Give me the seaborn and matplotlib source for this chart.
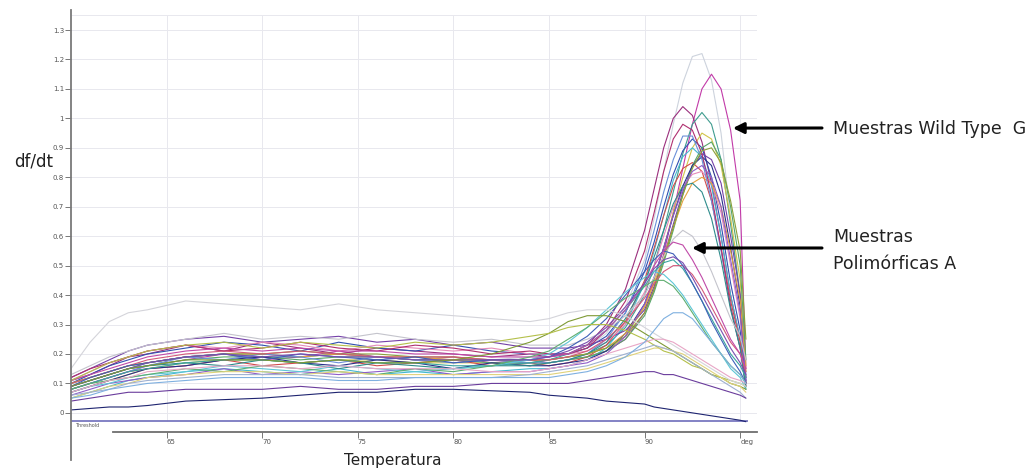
import matplotlib
matplotlib.use("Agg")
import matplotlib.pyplot as plt
import numpy as np
import pandas as pd
import seaborn as sns

# Melt-curve derivative (df/dt) readings per sample
temperature = [60, 61, 62, 63, 64, 66, 68, 70, 72, 74, 76, 78, 80, 82, 84, 85, 86, 87,
               88, 89, 90, 90.5, 91, 91.5, 92, 92.5, 93, 93.5, 94, 94.5, 95, 95.3]

# Wild type G samples (single tall melting peak near 92-93.5 degrees)
wt_01 = [0.10, 0.12, 0.14, 0.16, 0.17, 0.19, 0.20, 0.20, 0.19, 0.20, 0.19, 0.19, 0.18, 0.18, 0.19, 0.19,
         0.20, 0.22, 0.27, 0.36, 0.52, 0.66, 0.82, 0.98, 1.12, 1.21, 1.22, 1.13, 0.95, 0.66, 0.40, 0.14]
wt_02 = [0.08, 0.10, 0.12, 0.14, 0.16, 0.18, 0.20, 0.18, 0.19, 0.21, 0.19, 0.18, 0.19, 0.17, 0.18, 0.17,
         0.18, 0.19, 0.21, 0.25, 0.34, 0.42, 0.54, 0.68, 0.83, 0.98, 1.10, 1.15, 1.10, 0.96, 0.72, 0.15]
wt_03 = [0.11, 0.13, 0.16, 0.19, 0.20, 0.23, 0.21, 0.24, 0.22, 0.20, 0.22, 0.21, 0.20, 0.19, 0.20, 0.19,
         0.20, 0.23, 0.30, 0.42, 0.62, 0.76, 0.90, 1.00, 1.04, 1.01, 0.92, 0.78, 0.60, 0.40, 0.25, 0.10]
wt_04 = [0.09, 0.11, 0.13, 0.15, 0.17, 0.19, 0.20, 0.19, 0.19, 0.20, 0.19, 0.18, 0.18, 0.18, 0.17, 0.18,
         0.19, 0.20, 0.23, 0.29, 0.40, 0.50, 0.62, 0.75, 0.88, 0.98, 1.02, 0.98, 0.86, 0.64, 0.40, 0.12]
wt_05 = [0.07, 0.09, 0.11, 0.13, 0.15, 0.17, 0.18, 0.18, 0.17, 0.18, 0.18, 0.17, 0.17, 0.17, 0.16, 0.17,
         0.18, 0.19, 0.21, 0.26, 0.36, 0.45, 0.56, 0.68, 0.80, 0.90, 0.95, 0.93, 0.84, 0.66, 0.45, 0.16]
wt_06 = [0.10, 0.13, 0.16, 0.18, 0.20, 0.22, 0.24, 0.23, 0.21, 0.24, 0.22, 0.21, 0.23, 0.21, 0.20, 0.20,
         0.20, 0.22, 0.26, 0.34, 0.48, 0.58, 0.70, 0.81, 0.89, 0.93, 0.90, 0.80, 0.64, 0.44, 0.28, 0.11]
wt_07 = [0.05, 0.07, 0.09, 0.11, 0.12, 0.14, 0.15, 0.14, 0.13, 0.15, 0.13, 0.14, 0.13, 0.14, 0.15, 0.15,
         0.16, 0.18, 0.22, 0.30, 0.44, 0.55, 0.67, 0.79, 0.87, 0.90, 0.87, 0.77, 0.60, 0.40, 0.25, 0.09]
wt_08 = [0.12, 0.15, 0.18, 0.21, 0.23, 0.25, 0.26, 0.24, 0.25, 0.26, 0.24, 0.25, 0.23, 0.24, 0.22, 0.22,
         0.22, 0.23, 0.25, 0.28, 0.35, 0.43, 0.53, 0.64, 0.75, 0.84, 0.88, 0.86, 0.78, 0.60, 0.40, 0.12]
wt_09 = [0.08, 0.10, 0.12, 0.14, 0.15, 0.16, 0.18, 0.16, 0.17, 0.18, 0.16, 0.17, 0.18, 0.16, 0.17, 0.16,
         0.17, 0.19, 0.23, 0.31, 0.45, 0.56, 0.67, 0.77, 0.83, 0.85, 0.82, 0.72, 0.56, 0.38, 0.24, 0.10]
wt_10 = [0.09, 0.11, 0.13, 0.15, 0.16, 0.18, 0.19, 0.19, 0.18, 0.19, 0.19, 0.18, 0.18, 0.17, 0.17, 0.17,
         0.18, 0.19, 0.21, 0.25, 0.33, 0.41, 0.51, 0.62, 0.74, 0.84, 0.90, 0.92, 0.86, 0.70, 0.50, 0.18]
wt_11 = [0.11, 0.14, 0.17, 0.19, 0.21, 0.23, 0.22, 0.24, 0.23, 0.21, 0.23, 0.22, 0.21, 0.22, 0.20, 0.20,
         0.20, 0.21, 0.24, 0.30, 0.41, 0.50, 0.60, 0.70, 0.77, 0.81, 0.82, 0.78, 0.68, 0.50, 0.32, 0.12]
wt_12 = [0.07, 0.09, 0.11, 0.13, 0.15, 0.16, 0.18, 0.19, 0.17, 0.16, 0.18, 0.17, 0.15, 0.17, 0.16, 0.16,
         0.17, 0.18, 0.21, 0.27, 0.37, 0.46, 0.56, 0.67, 0.77, 0.84, 0.87, 0.84, 0.74, 0.56, 0.36, 0.10]
wt_13 = [0.10, 0.12, 0.14, 0.16, 0.17, 0.19, 0.20, 0.20, 0.19, 0.20, 0.19, 0.19, 0.18, 0.18, 0.18, 0.18,
         0.19, 0.20, 0.22, 0.27, 0.36, 0.44, 0.53, 0.63, 0.72, 0.78, 0.80, 0.78, 0.70, 0.55, 0.38, 0.14]
wt_14 = [0.08, 0.10, 0.12, 0.14, 0.16, 0.19, 0.18, 0.20, 0.19, 0.17, 0.19, 0.18, 0.17, 0.18, 0.17, 0.17,
         0.18, 0.20, 0.25, 0.34, 0.50, 0.62, 0.75, 0.86, 0.94, 0.94, 0.86, 0.72, 0.55, 0.36, 0.22, 0.09]
wt_15 = [0.12, 0.15, 0.17, 0.19, 0.21, 0.23, 0.21, 0.22, 0.24, 0.22, 0.21, 0.23, 0.22, 0.20, 0.21, 0.20,
         0.20, 0.22, 0.28, 0.38, 0.55, 0.68, 0.82, 0.93, 0.98, 0.96, 0.88, 0.74, 0.56, 0.36, 0.22, 0.09]
wt_16 = [0.09, 0.11, 0.13, 0.15, 0.16, 0.17, 0.16, 0.18, 0.17, 0.15, 0.17, 0.16, 0.15, 0.16, 0.16, 0.17,
         0.18, 0.20, 0.24, 0.32, 0.44, 0.53, 0.62, 0.71, 0.77, 0.78, 0.75, 0.66, 0.52, 0.35, 0.22, 0.08]
wt_17 = [0.10, 0.12, 0.14, 0.16, 0.17, 0.19, 0.20, 0.20, 0.21, 0.20, 0.20, 0.19, 0.19, 0.18, 0.18, 0.18,
         0.19, 0.20, 0.22, 0.26, 0.34, 0.42, 0.52, 0.63, 0.74, 0.83, 0.89, 0.90, 0.85, 0.72, 0.55, 0.25]
wt_18 = [0.06, 0.08, 0.10, 0.11, 0.12, 0.13, 0.15, 0.13, 0.14, 0.13, 0.14, 0.15, 0.13, 0.14, 0.14, 0.15,
         0.16, 0.17, 0.20, 0.26, 0.37, 0.46, 0.56, 0.67, 0.76, 0.82, 0.84, 0.80, 0.70, 0.52, 0.34, 0.11]

# Polymorphic A samples (lower, earlier and broader peak)
pm_01 = [0.13, 0.16, 0.19, 0.21, 0.23, 0.25, 0.27, 0.25, 0.26, 0.25, 0.27, 0.25, 0.24, 0.25, 0.23, 0.23,
         0.23, 0.25, 0.28, 0.33, 0.40, 0.46, 0.53, 0.59, 0.62, 0.60, 0.55, 0.48, 0.40, 0.32, 0.26, 0.18]
pm_02 = [0.08, 0.10, 0.12, 0.14, 0.15, 0.17, 0.18, 0.18, 0.17, 0.18, 0.17, 0.17, 0.16, 0.16, 0.17, 0.18,
         0.20, 0.23, 0.28, 0.35, 0.43, 0.48, 0.51, 0.52, 0.49, 0.44, 0.38, 0.32, 0.26, 0.20, 0.16, 0.12]
pm_03 = [0.10, 0.12, 0.14, 0.16, 0.18, 0.20, 0.21, 0.20, 0.21, 0.20, 0.19, 0.19, 0.19, 0.18, 0.18, 0.18,
         0.19, 0.21, 0.25, 0.31, 0.39, 0.44, 0.48, 0.50, 0.50, 0.47, 0.42, 0.36, 0.30, 0.24, 0.20, 0.14]
pm_04 = [0.09, 0.12, 0.14, 0.16, 0.17, 0.19, 0.20, 0.18, 0.20, 0.19, 0.18, 0.19, 0.17, 0.18, 0.18, 0.19,
         0.22, 0.26, 0.32, 0.40, 0.48, 0.52, 0.55, 0.54, 0.50, 0.44, 0.38, 0.31, 0.25, 0.19, 0.14, 0.10]
pm_05 = [0.07, 0.09, 0.10, 0.12, 0.13, 0.14, 0.16, 0.15, 0.14, 0.16, 0.15, 0.14, 0.15, 0.16, 0.18, 0.20,
         0.24, 0.29, 0.35, 0.41, 0.46, 0.48, 0.47, 0.44, 0.40, 0.35, 0.30, 0.25, 0.20, 0.15, 0.12, 0.08]
pm_06 = [0.11, 0.13, 0.15, 0.17, 0.19, 0.21, 0.22, 0.21, 0.22, 0.21, 0.21, 0.20, 0.20, 0.19, 0.19, 0.19,
         0.20, 0.23, 0.28, 0.35, 0.44, 0.50, 0.55, 0.58, 0.57, 0.52, 0.46, 0.39, 0.32, 0.25, 0.20, 0.15]
pm_07 = [0.08, 0.10, 0.11, 0.12, 0.13, 0.15, 0.14, 0.16, 0.15, 0.14, 0.13, 0.15, 0.14, 0.16, 0.19, 0.21,
         0.25, 0.29, 0.34, 0.39, 0.43, 0.45, 0.45, 0.43, 0.39, 0.34, 0.29, 0.24, 0.20, 0.16, 0.13, 0.10]
pm_08 = [0.09, 0.11, 0.13, 0.15, 0.17, 0.19, 0.20, 0.19, 0.20, 0.19, 0.19, 0.18, 0.18, 0.18, 0.18, 0.19,
         0.21, 0.24, 0.29, 0.36, 0.44, 0.49, 0.52, 0.53, 0.51, 0.46, 0.40, 0.34, 0.28, 0.22, 0.17, 0.13]

# Samples with an early, shallow transition
eb_01 = [0.09, 0.11, 0.13, 0.15, 0.16, 0.18, 0.18, 0.18, 0.17, 0.18, 0.17, 0.17, 0.18, 0.20, 0.24, 0.27,
         0.31, 0.33, 0.33, 0.31, 0.27, 0.25, 0.23, 0.21, 0.19, 0.17, 0.15, 0.13, 0.12, 0.10, 0.09, 0.08]
eb_02 = [0.11, 0.14, 0.17, 0.19, 0.21, 0.23, 0.24, 0.22, 0.24, 0.23, 0.22, 0.24, 0.23, 0.24, 0.26, 0.27,
         0.29, 0.30, 0.30, 0.28, 0.25, 0.23, 0.21, 0.20, 0.18, 0.16, 0.15, 0.13, 0.12, 0.11, 0.10, 0.09]
og_01 = [0.15, 0.24, 0.31, 0.34, 0.35, 0.38, 0.37, 0.36, 0.35, 0.37, 0.35, 0.34, 0.33, 0.32, 0.31, 0.32,
         0.34, 0.35, 0.35, 0.33, 0.29, 0.27, 0.25, 0.23, 0.21, 0.19, 0.17, 0.15, 0.13, 0.11, 0.10, 0.09]

# Flat, low-signal samples
lf_01 = [0.07, 0.09, 0.11, 0.12, 0.14, 0.15, 0.16, 0.16, 0.15, 0.16, 0.15, 0.15, 0.15, 0.14, 0.14, 0.15,
         0.16, 0.18, 0.20, 0.22, 0.24, 0.25, 0.25, 0.24, 0.22, 0.20, 0.18, 0.16, 0.14, 0.12, 0.11, 0.10]
lf_02 = [0.05, 0.07, 0.09, 0.10, 0.12, 0.13, 0.14, 0.14, 0.13, 0.14, 0.13, 0.13, 0.13, 0.13, 0.13, 0.13,
         0.14, 0.15, 0.17, 0.19, 0.21, 0.22, 0.22, 0.21, 0.20, 0.18, 0.16, 0.14, 0.12, 0.10, 0.09, 0.07]
lf_03 = [0.06, 0.07, 0.08, 0.10, 0.11, 0.12, 0.13, 0.13, 0.13, 0.12, 0.12, 0.12, 0.12, 0.12, 0.13, 0.14,
         0.15, 0.16, 0.18, 0.20, 0.22, 0.23, 0.22, 0.21, 0.19, 0.17, 0.15, 0.13, 0.11, 0.09, 0.07, 0.05]
lo_01 = [0.010, 0.015, 0.020, 0.020, 0.025, 0.040, 0.045, 0.050, 0.060, 0.070, 0.070, 0.080, 0.080, 0.075,
         0.070, 0.060, 0.055, 0.050, 0.040, 0.035, 0.030, 0.020, 0.015, 0.010, 0.005, 0.000, -0.005, -0.010,
         -0.015, -0.020, -0.025, -0.030]
lo_02 = [0.04, 0.05, 0.06, 0.07, 0.07, 0.08, 0.08, 0.08, 0.09, 0.08, 0.08, 0.09, 0.09, 0.10, 0.10, 0.10,
         0.10, 0.11, 0.12, 0.13, 0.14, 0.14, 0.13, 0.13, 0.12, 0.11, 0.10, 0.09, 0.08, 0.07, 0.06, 0.05]
lo_03 = [0.05, 0.06, 0.08, 0.09, 0.10, 0.11, 0.12, 0.12, 0.12, 0.11, 0.11, 0.12, 0.12, 0.12, 0.12, 0.12,
         0.13, 0.14, 0.16, 0.19, 0.24, 0.28, 0.32, 0.34, 0.34, 0.32, 0.28, 0.24, 0.20, 0.16, 0.13, 0.10]

samples = {
    "wt_01": wt_01, "wt_02": wt_02, "wt_03": wt_03, "wt_04": wt_04, "wt_05": wt_05, "wt_06": wt_06,
    "wt_07": wt_07, "wt_08": wt_08, "wt_09": wt_09, "wt_10": wt_10, "wt_11": wt_11, "wt_12": wt_12,
    "wt_13": wt_13, "wt_14": wt_14, "wt_15": wt_15, "wt_16": wt_16, "wt_17": wt_17, "wt_18": wt_18,
    "pm_01": pm_01, "pm_02": pm_02, "pm_03": pm_03, "pm_04": pm_04, "pm_05": pm_05, "pm_06": pm_06,
    "pm_07": pm_07, "pm_08": pm_08, "eb_01": eb_01, "eb_02": eb_02, "og_01": og_01,
    "lf_01": lf_01, "lf_02": lf_02, "lf_03": lf_03, "lo_01": lo_01, "lo_02": lo_02, "lo_03": lo_03,
}

sample_colors = {
    "wt_01": "#cdd3dd", "wt_02": "#c23aa8", "wt_03": "#9b2f7d", "wt_04": "#3f9c8f", "wt_05": "#d2c44a",
    "wt_06": "#3150b0", "wt_07": "#45b8cf", "wt_08": "#7440a8", "wt_09": "#d24b4b", "wt_10": "#56a66a",
    "wt_11": "#e58ab8", "wt_12": "#28308a", "wt_13": "#e3a23f", "wt_14": "#6a8fd8", "wt_15": "#b03070",
    "wt_16": "#2e8c8c", "wt_17": "#8aa03a", "wt_18": "#8e5cc8",
    "pm_01": "#c4c4cc", "pm_02": "#3aa5a0", "pm_03": "#d35a7a", "pm_04": "#3e5fb8", "pm_05": "#5cc6d6",
    "pm_06": "#c04aa8", "pm_07": "#5fae70", "pm_08": "#7a4fb0",
    "eb_01": "#7f9a35", "eb_02": "#b4c04a", "og_01": "#d4d4da",
    "lf_01": "#e8a6c6", "lf_02": "#e0d27a", "lf_03": "#9fb0d0",
    "lo_01": "#1e2470", "lo_02": "#6a3c9c", "lo_03": "#7fb0e0",
}

x_ticks = [65, 70, 75, 80, 85, 90, 95]
x_tick_labels = ["65", "70", "75", "80", "85", "90", "deg"]
y_ticks = [0, 0.1, 0.2, 0.3, 0.4, 0.5, 0.6, 0.7, 0.8, 0.9, 1.0, 1.1, 1.2, 1.3]
y_tick_labels = ["0", "0.1", "0.2", "0.3", "0.4", "0.5", "0.6", "0.7", "0.8", "0.9", "1", "1.1", "1.2", "1.3"]
THRESHOLD = -0.027

# ---- long-form table ----
frames = []
for name, vals in samples.items():
    frames.append(pd.DataFrame({"Temperatura": temperature, "df/dt": vals, "muestra": name}))
df = pd.concat(frames, ignore_index=True)

sns.set_style("white")
plt.rcParams["font.family"] = ["DejaVu Sans"]

W, H = 1031, 470
fig = plt.figure(figsize=(W / 100, H / 100), dpi=100)
ax = fig.add_axes([71 / W, 10 / H, (757 - 71) / W, 450 / H])

X_MIN, X_MAX = 60, 95.88
Y_MIN, Y_MAX = -0.16, 1.368
ax.set_xlim(X_MIN, X_MAX)
ax.set_ylim(Y_MIN, Y_MAX)

# light grid
grid_c = "#e8e8ee"
for v in y_ticks + [1.35]:
    ax.axhline(v, color=grid_c, lw=0.7, zorder=0)
ax.vlines(x_ticks, THRESHOLD, 1.35, color=grid_c, lw=0.7, zorder=0)

# threshold line
ax.hlines(THRESHOLD, X_MIN, temperature[-1] + 0.1, color="#7a78c0", lw=1.3, zorder=1)
ax.text(60.2, THRESHOLD - 0.008, "Threshold", fontsize=3.5, color="#555555",
        ha="left", va="top")

sns.lineplot(data=df, x="Temperatura", y="df/dt", hue="muestra", palette=sample_colors,
             estimator=None, sort=False, legend=False, lw=0.8, ax=ax, zorder=2)

# axes styling
for s in ["top", "right"]:
    ax.spines[s].set_visible(False)
ax.spines["left"].set_color("#7a7a7a")
ax.spines["left"].set_linewidth(1.3)
ax.spines["bottom"].set_color("#6e6e6e")
ax.spines["bottom"].set_linewidth(1.3)
ax.spines["bottom"].set_position(("data", -0.064))
ax.spines["bottom"].set_bounds(62.2, X_MAX)

ax.set_xticks(x_ticks)
ax.set_xticklabels(x_tick_labels, ha="left")
ax.set_yticks(y_ticks)
ax.set_yticklabels(y_tick_labels)
ax.tick_params(axis="x", length=4, width=0.7, color="#777777", labelsize=5,
               labelcolor="#555555", pad=1, direction="out", bottom=True)
ax.tick_params(axis="y", length=4, width=0.7, color="#777777", labelsize=5,
               labelcolor="#555555", pad=1, direction="out", left=True)
ax.set_xlabel("")
ax.set_ylabel("")

# axis titles
fig.text(34 / W, 1 - 162 / H, "df/dt", fontsize=12, ha="center", va="center", color="#222222")
fig.text(393 / W, 1 - 461 / H, "Temperatura", fontsize=11, ha="center", va="center", color="#222222")

# group annotations
fig.text(833 / W, 1 - 129 / H, "Muestras Wild Type  G", fontsize=12.5, ha="left", va="center",
         color="#222222")
fig.text(833 / W, 1 - 237 / H, "Muestras", fontsize=12.5, ha="left", va="center", color="#222222")
fig.text(833 / W, 1 - 264 / H, "Polimórficas A", fontsize=12.5, ha="left", va="center",
         color="#222222")

arrow_kw = dict(arrowstyle="-|>", lw=2.2, color="black", mutation_scale=16,
                shrinkA=0, shrinkB=0)
ax.annotate("", xy=(94.62, 0.967), xycoords="data",
            xytext=(822 / W, 1 - 128 / H), textcoords="figure fraction",
            arrowprops=arrow_kw, annotation_clip=False)
ax.annotate("", xy=(92.48, 0.560), xycoords="data",
            xytext=(822 / W, 1 - 248 / H), textcoords="figure fraction",
            arrowprops=arrow_kw, annotation_clip=False)

fig.savefig("out.png", dpi=100, facecolor="white")
